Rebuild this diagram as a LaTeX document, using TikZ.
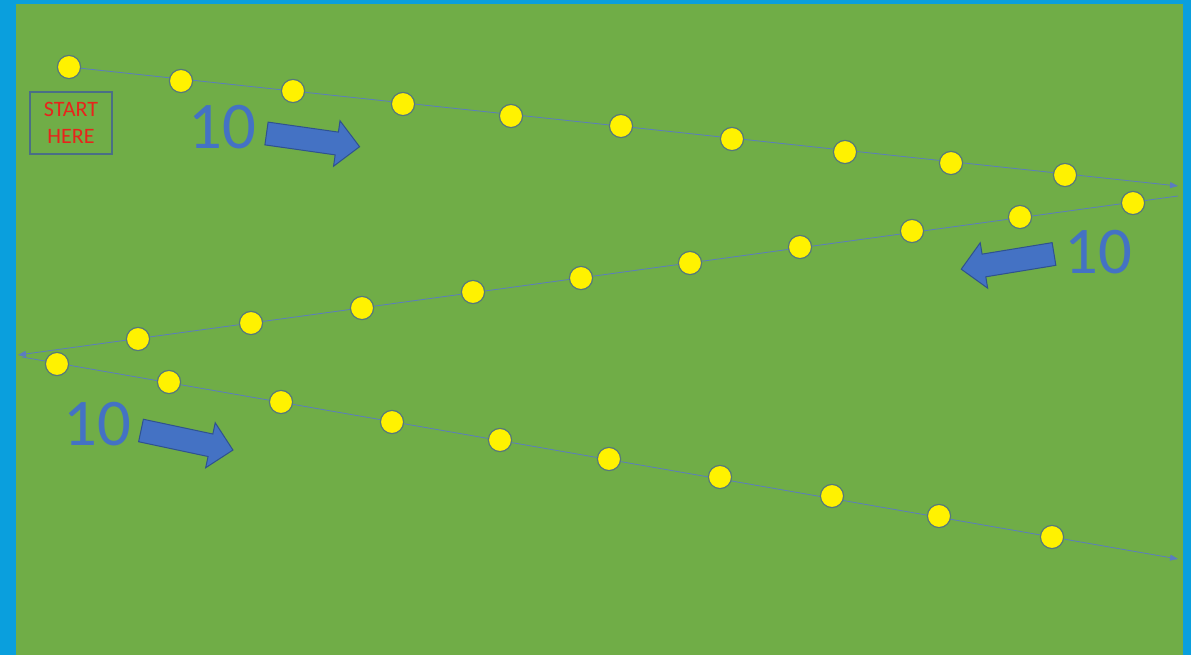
\documentclass[tikz,border=0pt]{standalone}
\usepackage{fontspec}
\setmainfont{Carlito}
\usetikzlibrary{positioning,arrows.meta}
\definecolor{pitch}{HTML}{70AD47}
\definecolor{frame}{HTML}{0A9FDD}
\definecolor{office}{HTML}{4472C4}
\definecolor{officedark}{HTML}{2F528F}
\definecolor{track}{HTML}{5B7CC0}
\definecolor{rim}{HTML}{55797A}
\definecolor{boxline}{HTML}{4A6F86}
\definecolor{starttext}{HTML}{E8231B}
\tikzset{
  >={Triangle[length=6pt,width=4.5pt]},
  dot/.style={draw=rim, line width=0.9pt, fill=yellow, circle, minimum size=17.4pt, inner sep=0pt},
  track/.style={color=track, line width=0.6pt},
  startbox/.style={draw=boxline, line width=1pt, minimum width=61.5pt, minimum height=46.5pt,
    align=center, text=starttext, font=\fontsize{16.5}{20}\selectfont},
  count/.style={text=office, font=\fontsize{50}{60}\selectfont, inner sep=0pt},
}
\newcommand{\bigarrow}[3]{%
  \begin{scope}[shift={(#1,#2)}, rotate=#3]
    \draw[fill=office, draw=officedark, line width=0.75pt]
      (0,-11.5) -- (71,-11.5) -- (71,-23) -- (94,0) -- (71,23) -- (71,11.5) -- (0,11.5) -- cycle;
  \end{scope}}

\begin{document}
\begin{tikzpicture}[x=0.75pt, y=-0.75pt]
    \useasboundingbox (0,0) rectangle (1191,655);
    \fill[frame] (0,0) rectangle (1191,655);
    \fill[pitch] (16,4) rectangle (1183,655);

    % run lines
    \coordinate (a1) at (69,67);
    \coordinate (b1) at (1178,186);
    \coordinate (a2) at (1178,196);
    \coordinate (b2) at (18,355);
    \coordinate (a3) at (22,357);
    \coordinate (b3) at (1178,559);
    \path[track, ->] (a1) edge (b1)
                     (a2) edge (b2)
                     (a3) edge (b3);

    % cones
    \foreach \x/\y [count=\i] in {69/67, 181/81, 293/91, 403/104, 511/116,
        621/126, 732/139, 845/152, 951/163, 1065/175,
        1133/203, 1020/217, 912/231, 800/247, 690/263,
        581/278, 473/292, 362/308, 251/323, 138/339,
        57/364, 169/382, 281/402, 392/422, 500/440,
        609/459, 720/477, 832/496, 939/516, 1052/537}
      \node[dot] (c\i) at (\x,\y) {};

    \node[startbox] (start) at (71,123) {START\\HERE};

    \node[count] (n1) at (222,127) {10};
    \node[count] (n2) at (1098,252) {10};
    \node[count] (n3) at (97,424) {10};

    \bigarrow{266.5}{133.5}{-8.1}
    \bigarrow{1054}{254}{189.3}
    \bigarrow{141}{430.5}{-12}
  \end{tikzpicture}
\end{document}
